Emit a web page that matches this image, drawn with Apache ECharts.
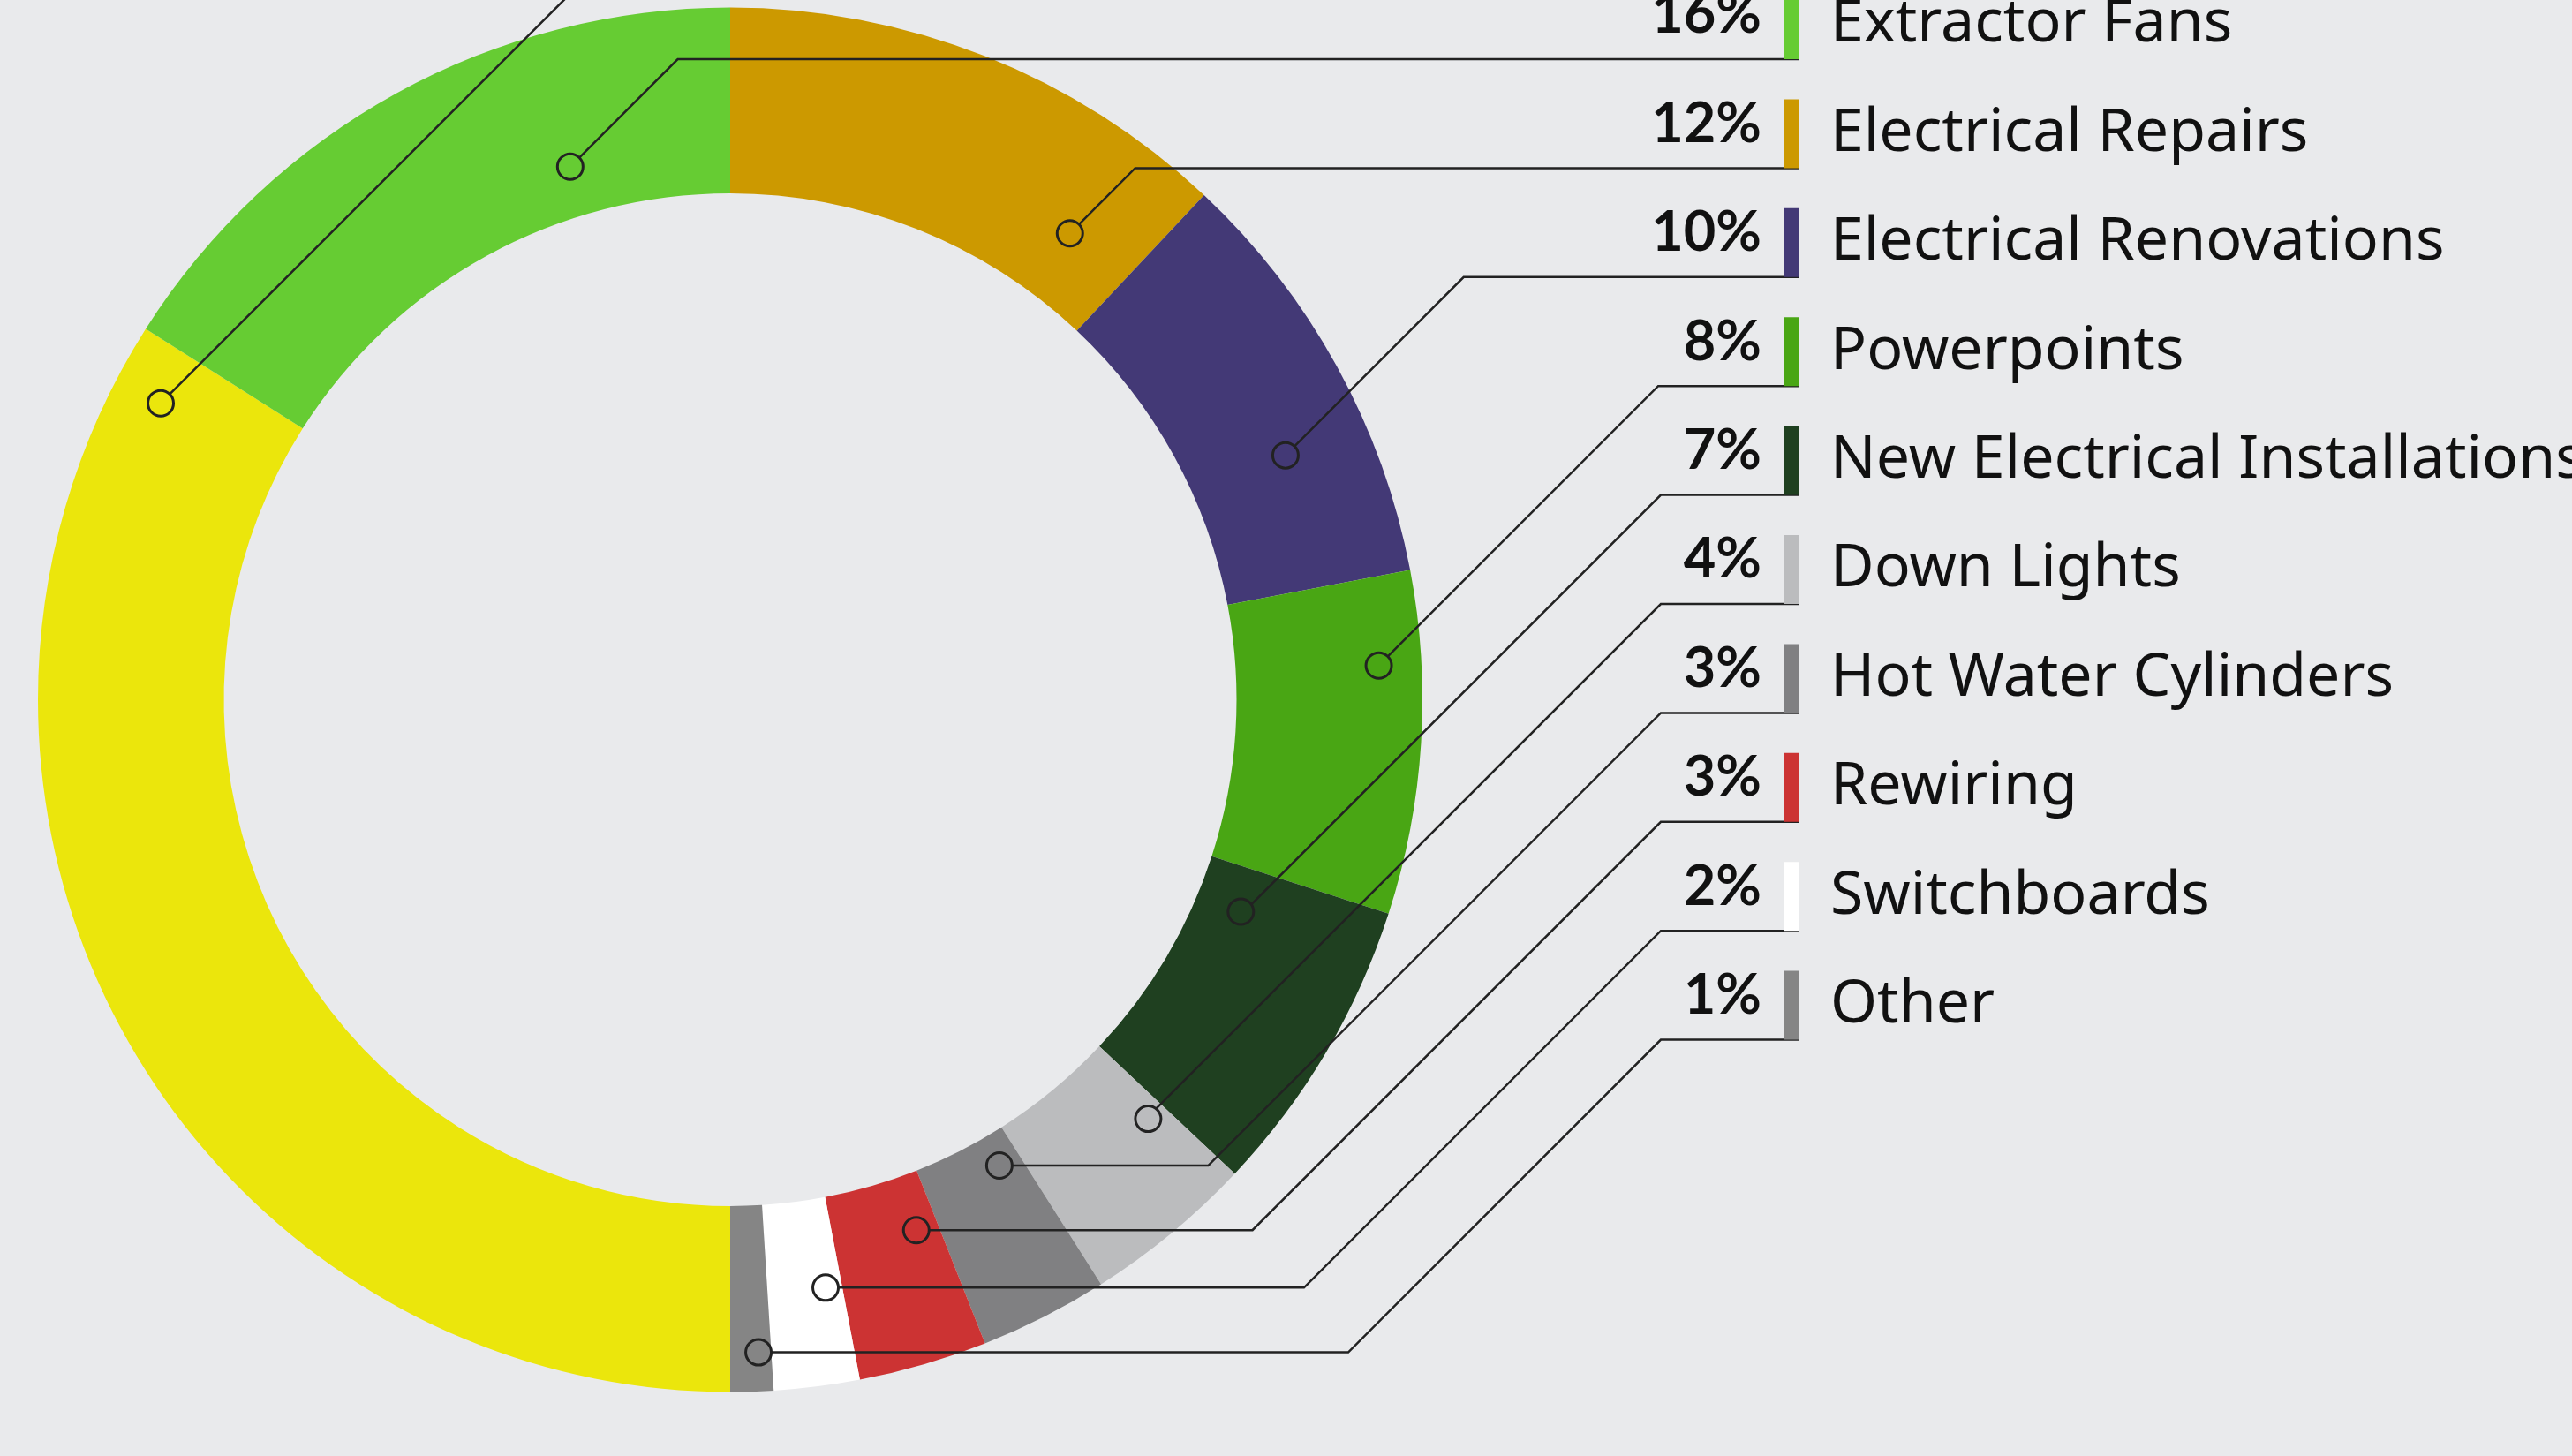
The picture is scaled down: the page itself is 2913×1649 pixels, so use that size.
<!DOCTYPE html>
<html>
<head>
<meta charset="utf-8">
<script src="https://cdn.jsdelivr.net/npm/echarts@6/dist/echarts.min.js"></script>
<style>
html, body { margin: 0; padding: 0; background: #e9eaec; }
#main { width: 2913px; height: 1649px; }
</style>
</head>
<body>
<div id="main"></div>
<script>
// data, in legend order (first one is cut off at the top of the picture)
var labels = ['General Electrical', 'Extractor Fans', 'Electrical Repairs', 'Electrical Renovations', 'Powerpoints',
    'New Electrical Installations', 'Down Lights', 'Hot Water Cylinders', 'Rewiring', 'Switchboards', 'Other'];
var shares = [34, 16, 12, 10, 8, 7, 4, 3, 3, 2, 1];
var colors = ['#ebe60c', '#66cc33', '#cc9900', '#433976', '#49a614', '#1f4020',
    '#bbbcbe', '#808082', '#cc3333', '#ffffff', '#858585'];

// where each leader line starts: share of the slice arc, and depth into the ring
var anchorFrac = [0.96, 0.71, 0.835, 0.64, 0.27, 0.18, 0.13, 0.22, 0.21, 0.22, 0.31];
var anchorDepth = [0.73, 0.27, 0.38, 0.54, 0.77, 0.25, 0.46, 0.17, 0.30, 0.48, 0.79];

// layout
var cx = 827, cy = 792.5, rIn = 573.5, rOut = 784;
var rowBase = -56.4, rowStep = 123.4;   // y of the line under each legend row
var elbowMax = 1881, lineEnd = 2038, pctRight = 1995, legendLeft = 2020;
var barH = 78;

var cum = [], total = 0;
for (var i = 0; i < shares.length; i++) { cum.push(total); total += shares[i]; }

function anchorPoint(i) {
    var v = cum[i] + anchorFrac[i] * shares[i];
    var a = (180 + v / total * 360) * Math.PI / 180;
    var r = rIn + anchorDepth[i] * (rOut - rIn);
    return [cx + r * Math.sin(a), cy - r * Math.cos(a)];
}

var pieData = labels.map(function (n, i) {
    return { name: n, value: shares[i], itemStyle: { color: colors[i] } };
});

var chart = echarts.init(document.getElementById('main'));
chart.setOption({
    animation: false,
    backgroundColor: '#e9eaec',
    color: colors,
    legend: {
        data: labels,
        orient: 'vertical',
        left: legendLeft,
        top: rowBase - barH,
        padding: 0,
        icon: 'rect',
        itemWidth: 18,
        itemHeight: barH,
        itemGap: rowStep - barH,
        selectedMode: false,
        textStyle: { fontSize: 68, fontFamily: 'Noto Sans', color: '#111', padding: [0, 0, 80, 30] }
    },
    polar: { center: [cx, cy], radius: [rIn, rOut] },
    angleAxis: { type: 'value', min: 0, max: total, startAngle: 270, clockwise: true, show: false },
    radiusAxis: { type: 'value', min: 0, max: 1, show: false },
    series: [
        {
            // the ring itself
            type: 'pie',
            center: [cx, cy],
            radius: [rIn, rOut],
            startAngle: 270,
            clockwise: true,
            silent: true,
            label: { show: false },
            labelLine: { show: false },
            data: pieData
        },
        {
            // same slices, see-through, carrying the percentages and leader lines above the ring
            type: 'pie',
            z: 3,
            center: [cx, cy],
            radius: [rIn, rOut],
            startAngle: 270,
            clockwise: true,
            avoidLabelOverlap: false,
            silent: true,
            itemStyle: { color: 'rgba(0,0,0,0)' },
            data: labels.map(function (n, i) { return { name: n, value: shares[i] }; }),
            label: {
                show: true,
                position: 'outside',
                formatter: function (p) { return p.value + '%'; },
                fontSize: 63,
                fontWeight: 'bold',
                fontFamily: 'Lato',
                color: '#111'
            },
            labelLine: { show: true, smooth: false, lineStyle: { color: '#222', width: 2.5 } },
            labelLayout: function (p) {
                var i = p.dataIndex;
                var rowY = rowBase + i * rowStep;
                var A = anchorPoint(i);
                var d = Math.abs(A[1] - rowY);
                var pts;
                if (A[1] > cy) {
                    // lower half: run flat first, then up to the shared elbow
                    pts = [A, [elbowMax - d, A[1]], [elbowMax, rowY], [lineEnd, rowY]];
                } else {
                    pts = [A, [A[0] + d, rowY], [lineEnd, rowY]];
                }
                return { x: pctRight, y: rowY - 50, align: 'right', verticalAlign: 'middle', labelLinePoints: pts };
            }
        },
        {
            type: 'scatter',
            coordinateSystem: 'polar',
            silent: true,
            z: 5,
            symbol: 'circle',
            symbolSize: 29,
            itemStyle: { borderColor: '#222', borderWidth: 3, opacity: 1 },
            data: shares.map(function (v, i) {
                return { value: [anchorDepth[i], cum[i] + anchorFrac[i] * v], itemStyle: { color: colors[i] } };
            })
        }
    ]
});
</script>
</body>
</html>
